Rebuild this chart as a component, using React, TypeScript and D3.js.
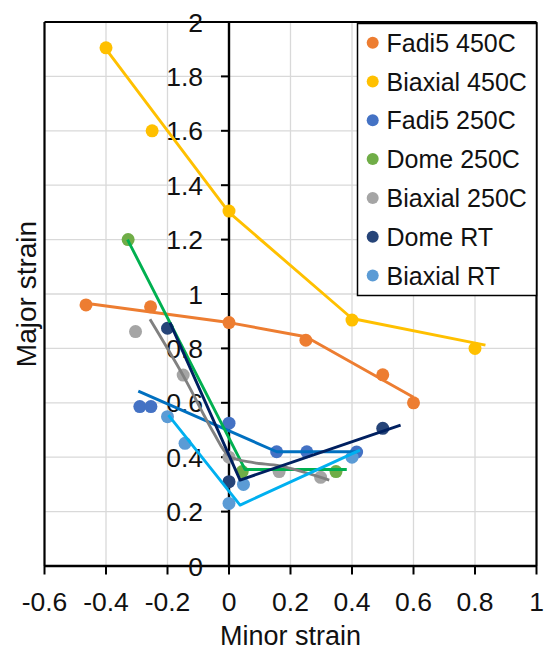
import React from "react";
import * as d3 from "d3";

type P = [number, number];

const seriesNames = ["Fadi5 450C", "Biaxial 450C", "Fadi5 250C", "Dome 250C", "Biaxial 250C", "Dome RT", "Biaxial RT"];
const markerColors = ["#ED7D31", "#FFC000", "#4472C4", "#70AD47", "#A5A5A5", "#264478", "#5B9BD5"];
const lineColors = ["#ED7D31", "#FFC000", "#0070C0", "#00B050", "#808080", "#002060", "#00B0F0"];

const fadi5_450: P[] = [[-0.465, 0.96], [-0.255, 0.953], [0, 0.895], [0.25, 0.83], [0.5, 0.703], [0.6, 0.6]];
const biaxial_450: P[] = [[-0.4, 1.905], [-0.25, 1.6], [0, 1.305], [0.4, 0.904], [0.8, 0.8]];
const fadi5_250: P[] = [[-0.29, 0.586], [-0.254, 0.586], [0, 0.525], [0.155, 0.42], [0.253, 0.42], [0.415, 0.419]];
const dome_250: P[] = [[-0.328, 1.2], [0.043, 0.347], [0.348, 0.347]];
const biaxial_250: P[] = [[-0.304, 0.862], [-0.149, 0.702], [0, 0.4], [0.163, 0.347], [0.298, 0.326]];
const dome_rt: P[] = [[-0.2, 0.874], [0, 0.31], [0.5, 0.506]];
const biaxial_rt: P[] = [[-0.2, 0.549], [-0.143, 0.451], [0, 0.23], [0.047, 0.3], [0.4, 0.4]];

const line_fadi5_450: P[] = [[-0.46, 0.965], [0, 0.895], [0.25, 0.843], [0.6, 0.62]];
const line_biaxial_450: P[] = [[-0.4, 1.9], [0, 1.3], [0.4, 0.91], [0.834, 0.812]];
const line_fadi5_250: P[] = [[-0.295, 0.643], [0.155, 0.42], [0.42, 0.42]];
const line_dome_250: P[] = [[-0.33, 1.2], [0.052, 0.355], [0.383, 0.355]];
const line_biaxial_250: P[] = [[-0.257, 0.907], [-0.149, 0.7], [-0.05, 0.49], [0, 0.405], [0.08, 0.38], [0.166, 0.368], [0.326, 0.316]];
const line_dome_rt: P[] = [[-0.192, 0.895], [0.036, 0.316], [0.558, 0.518]];
const line_biaxial_rt: P[] = [[-0.197, 0.555], [0.036, 0.224], [0.426, 0.426]];

const pointSeries = [fadi5_450, biaxial_450, fadi5_250, dome_250, biaxial_250, dome_rt, biaxial_rt];
const lineSeries = [line_fadi5_450, line_biaxial_450, line_fadi5_250, line_dome_250, line_biaxial_250, line_dome_rt, line_biaxial_rt];

const xTicks = [-0.6, -0.4, -0.2, 0, 0.2, 0.4, 0.6, 0.8, 1];
const yTicks = [0, 0.2, 0.4, 0.6, 0.8, 1, 1.2, 1.4, 1.6, 1.8, 2];
const xTitle = "Minor strain";
const yTitle = "Major strain";

const W = 546, H = 651;
const left = 44.5, right = 536.5, top = 22, bottom = 566;
const FONT = "'Liberation Sans', Arial, sans-serif";

export default function App() {
  const x = d3.scaleLinear().domain([-0.6, 1]).range([left, right]);
  const y = d3.scaleLinear().domain([0, 2]).range([bottom, top]);
  const fmt = (v: number) => String(+v.toFixed(1));
  const x0 = x(0);
  const smooth = d3.line<P>().x(d => x(d[0])).y(d => y(d[1])).curve(d3.curveCatmullRom.alpha(0.5));
  const straight = d3.line<P>().x(d => x(d[0])).y(d => y(d[1]));
  const legX = 357.5, legY = 23.5, legW = 536.5 - 357.5, legH = 272, rowH = 38.8, row0 = 42.7;

  return (
    <svg width={W} height={H} style={{ position: "absolute", left: 0, top: 0, background: "#fff" }} fontFamily={FONT}>
      <rect x={0} y={0} width={W} height={H} fill="#fff" />
      {xTicks.map((t, i) => (
        <line key={"gx" + i} x1={x(t)} x2={x(t)} y1={top} y2={bottom} stroke="#d9d9d9" strokeWidth={1.3} />
      ))}
      {yTicks.map((t, i) => (
        <line key={"gy" + i} x1={left} x2={right} y1={y(t)} y2={y(t)} stroke="#d9d9d9" strokeWidth={1.3} />
      ))}
      <line x1={left} x2={left} y1={top} y2={bottom} stroke="#000" strokeWidth={2.2} />
      <line x1={left} x2={right} y1={top} y2={top} stroke="#000" strokeWidth={2.2} />
      <line x1={right} x2={right} y1={top} y2={bottom} stroke="#000" strokeWidth={2.2} />
      <line x1={x0} x2={x0} y1={top} y2={bottom} stroke="#000" strokeWidth={2.4} />
      <line x1={left} x2={right} y1={bottom} y2={bottom} stroke="#000" strokeWidth={2.4} />
      {xTicks.map((t, i) => (
        <line key={"tx" + i} x1={x(t)} x2={x(t)} y1={bottom} y2={bottom + 8.5} stroke="#000" strokeWidth={2} />
      ))}
      {yTicks.map((t, i) => (
        <line key={"ty" + i} x1={x0 - 8} x2={x0} y1={y(t)} y2={y(t)} stroke="#000" strokeWidth={2} />
      ))}
      {xTicks.map((t, i) => (
        <text key={"lx" + i} x={x(t)} y={611} textAnchor="middle" fontSize={26.5} fill="#111">{fmt(t)}</text>
      ))}
      {yTicks.map((t, i) => (
        <text key={"ly" + i} x={203} y={y(t) + 9.5} textAnchor="end" fontSize={26.5} fill="#111">{fmt(t)}</text>
      ))}
      {pointSeries.map((s, si) =>
        s.map((d, j) => (
          <circle key={"p" + si + "-" + j} cx={x(d[0])} cy={y(d[1])} r={6.5} fill={markerColors[si]} />
        ))
      )}
      {lineSeries.map((s, si) => (
        <path key={"l" + si} d={(si === 4 ? smooth(s) : straight(s)) || ""} fill="none" stroke={lineColors[si]} strokeWidth={2.9} strokeLinejoin="round" />
      ))}
      <text x={(left + right) / 2} y={645} textAnchor="middle" fontSize={27} fill="#111">{xTitle}</text>
      <text transform={`translate(36,${(top + bottom) / 2}) rotate(-90)`} textAnchor="middle" fontSize={28} fill="#111">{yTitle}</text>
      <rect x={legX} y={legY} width={legW} height={legH} fill="#fff" stroke="#000" strokeWidth={1.5} />
      {seriesNames.map((n, i) => (
        <g key={"lg" + i}>
          <circle cx={372.7} cy={row0 + i * rowH} r={6} fill={markerColors[i]} />
          <text x={386.5} y={row0 + i * rowH + 9} fontSize={25} fill="#111">{n}</text>
        </g>
      ))}
    </svg>
  );
}
